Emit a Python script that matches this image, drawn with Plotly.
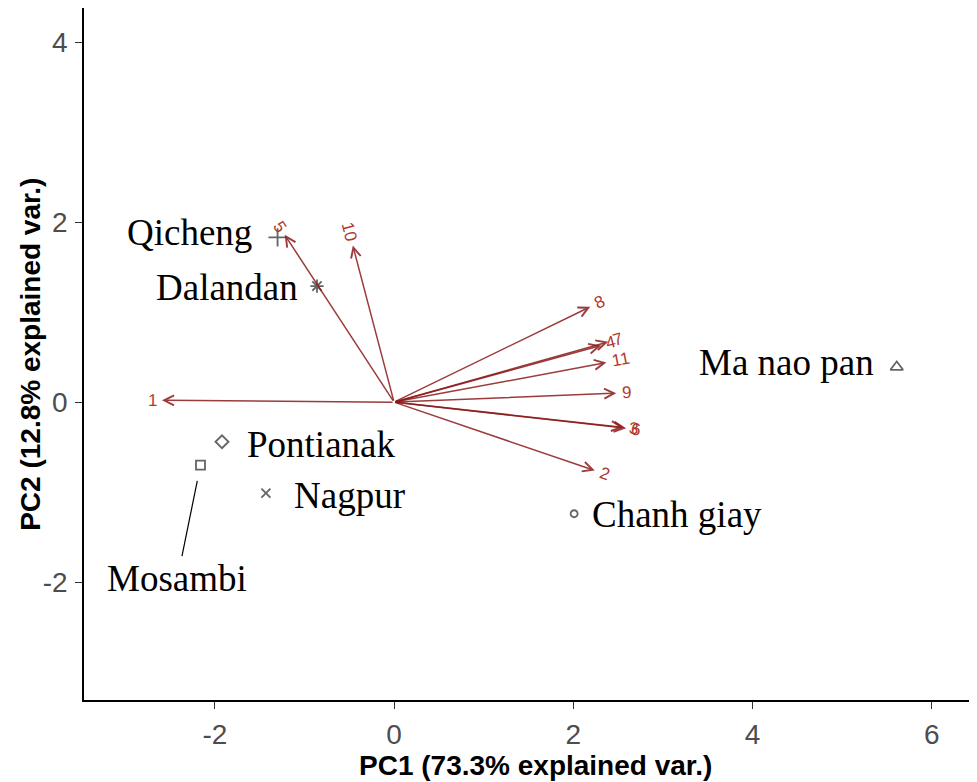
import math
import plotly.graph_objects as go

# Sample scores (PC1, PC2)
cultivars = ["Qicheng", "Dalandan", "Ma nao pan", "Pontianak", "Mosambi", "Nagpur", "Chanh giay"]
pc1 = [-1.30, -0.86, 5.61, -1.92, -2.16, -1.43, 2.01]
pc2 = [1.83, 1.29, 0.39, -0.44, -0.70, -1.01, -1.24]
symbols = ["cross-thin-open", "asterisk-open", "triangle-up-open", "diamond-open",
           "square-open", "x-thin-open", "circle-open"]
marker_sizes = [13, 11, 11, 10, 9, 9, 7]

# Variable loadings (arrow tips)
var_names = ["1", "2", "3", "4", "5", "6", "7", "8", "9", "10", "11"]
var_pc1 = [-2.59, 2.24, 2.56, 2.31, -1.22, 2.59, 2.39, 2.19, 2.48, -0.46, 2.37]
var_pc2 = [0.02, -0.76, -0.28, 0.63, 1.86, -0.29, 0.67, 1.06, 0.10, 1.74, 0.44]

# tick labels
x_ticks = [-2, 0, 2, 4, 6]
x_tick_text = ["-2", "0", "2", "4", "6"]
y_ticks = [-2, 0, 2, 4]
y_tick_text = ["-2", "0", "2", "4"]

# label placement relative to the point (pixels): xanchor, xshift, yshift
label_place = {
    "Qicheng": ("right", -24, 5),
    "Dalandan": ("right", -17, -1),
    "Ma nao pan": ("right", -21, 5),
    "Pontianak": ("left", 23, -3),
    "Nagpur": ("left", 26, -2),
    "Chanh giay": ("left", 16, -1),
}

ARROW_COL = "rgba(139,26,26,0.85)"
LABEL_COL = "#B03A2E"
TXT_COL = "#000000"
PT_COL = "#222222"

fig = go.Figure()

fig.add_trace(go.Scatter(
    x=pc1, y=pc2, mode="markers",
    marker=dict(symbol=symbols, size=marker_sizes, color=PT_COL,
                line=dict(color=PT_COL, width=1.8)),
    hoverinfo="text", text=cultivars, showlegend=False,
))

annotations = []

# Arrows
for n, vx, vy in zip(var_names, var_pc1, var_pc2):
    annotations.append(dict(
        x=vx, y=vy, ax=0, ay=0, xref="x", yref="y", axref="x", ayref="y",
        text="", showarrow=True, arrowhead=5, arrowsize=1.3, arrowwidth=1.5,
        arrowcolor=ARROW_COL, standoff=0, startstandoff=0,
    ))
    L = math.hypot(vx, vy)
    ux, uy = vx / L, vy / L
    d = 5 + 4.8 * len(n)
    ang = math.degrees(math.atan(vy / vx)) if vx != 0 else 90
    annotations.append(dict(
        x=vx, y=vy, xref="x", yref="y", text=n, showarrow=False,
        xanchor="center", yanchor="middle",
        xshift=d * ux, yshift=d * uy, textangle=-ang,
        font=dict(family="Liberation Sans, Arial", size=17, color=LABEL_COL),
    ))

# Cultivar labels
for name, x, y in zip(cultivars, pc1, pc2):
    if name in label_place:
        xa, xs, ys = label_place[name]
        annotations.append(dict(
            x=x, y=y, xref="x", yref="y", text=name, showarrow=False,
            xanchor=xa, yanchor="middle", xshift=xs, yshift=ys,
            font=dict(family="Liberation Serif, Times New Roman", size=37, color=TXT_COL),
        ))
    elif name == "Mosambi":
        annotations.append(dict(
            x=x, y=y, xref="x", yref="y", text=name, showarrow=True,
            arrowhead=0, arrowwidth=1.2, arrowcolor="#000000",
            ax=-23, ay=113, standoff=16,
            font=dict(family="Liberation Serif, Times New Roman", size=37, color=TXT_COL),
        ))

# Axis titles
annotations.append(dict(
    x=0.508, y=-0.095, xref="paper", yref="paper", xanchor="center", yanchor="middle",
    text="<b>PC1 (73.3% explained var.)</b>", showarrow=False,
    font=dict(family="Liberation Sans, Arial", size=28, color="#000000"),
))
annotations.append(dict(
    x=-0.061, y=0.5, xref="paper", yref="paper", xanchor="center", yanchor="middle",
    text="<b>PC2 (12.8% explained var.)</b>", showarrow=False, textangle=-90,
    font=dict(family="Liberation Sans, Arial", size=28, color="#000000"),
))

fig.update_layout(
    width=969, height=774,
    margin=dict(l=76, r=5, t=0, b=82),
    paper_bgcolor="white", plot_bgcolor="white",
    annotations=annotations,
    showlegend=False,
)

axis_common = dict(
    showgrid=False, zeroline=False, showline=True, linecolor="#000000", linewidth=1.5,
    ticks="outside", ticklen=7, tickwidth=1.3, tickcolor="#333333",
    tickfont=dict(family="Liberation Sans, Arial", size=28, color="#4D4D4D"),
    mirror=False, automargin=False,
)

fig.update_xaxes(range=[-3.46, 6.45], tickvals=x_ticks, ticktext=x_tick_text,
                 ticklabelstandoff=2, **axis_common)
fig.update_yaxes(range=[-3.31, 4.38], tickvals=y_ticks, ticktext=y_tick_text,
                 ticklabelstandoff=2, **axis_common)

fig.write_html("out.html")
